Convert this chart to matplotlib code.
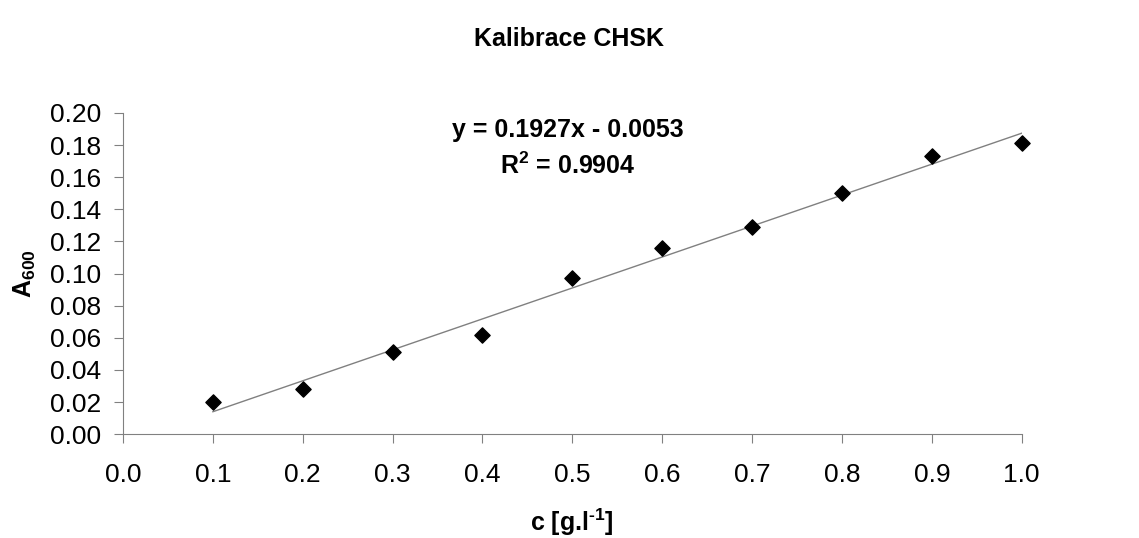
import numpy as np
import matplotlib.pyplot as plt

plt.rcParams['font.family'] = ['Liberation Sans', 'DejaVu Sans']
plt.rcParams['mathtext.fontset'] = 'custom'
plt.rcParams['mathtext.rm'] = 'Liberation Sans:bold'
plt.rcParams['mathtext.bf'] = 'Liberation Sans:bold'
plt.rcParams['mathtext.it'] = 'Liberation Sans:bold'

# calibration data
conc = [0.1, 0.2, 0.3, 0.4, 0.5, 0.6, 0.7, 0.8, 0.9, 1.0]
absorb = [0.020, 0.028, 0.051, 0.062, 0.097, 0.116, 0.129, 0.150, 0.173, 0.181]
slope = 0.1927
intercept = -0.0053

fig = plt.figure(figsize=(11.39, 5.38), dpi=100)
ax = fig.add_axes([0.108, 0.193, 0.789, 0.597])

xfit = np.array([conc[0], conc[-1]])
ax.plot(xfit, slope * xfit + intercept, color='#808080', lw=1)
ax.scatter(conc, absorb, marker='D', s=60, color='black', zorder=3, clip_on=False)

ax.set_xlim(0, 1.0)
ax.set_ylim(0, 0.20)
ax.set_xticks(np.arange(0, 1.01, 0.1))
ax.set_yticks(np.arange(0, 0.201, 0.02))
ax.set_xticklabels([f"{v:.1f}" for v in np.arange(0, 1.01, 0.1)])
ax.set_yticklabels([f"{v:.2f}" for v in np.arange(0, 0.201, 0.02)])
ax.tick_params(labelsize=19, color='#808080', length=6.5)
ax.tick_params(axis='x', pad=14)
ax.tick_params(axis='y', pad=9)
for s in ['top', 'right']:
    ax.spines[s].set_visible(False)
for s in ['left', 'bottom']:
    ax.spines[s].set_color('#808080')

# x label placed low, near the bottom edge
fig.text(0.502, 0.03, r"c [g.l$^{\text{-1}}$]", fontsize=18, fontweight='bold',
         ha='center', va='center')
ax.set_ylabel(r"A$_{\text{600}}$", fontsize=18, fontweight='bold', labelpad=9)
fig.suptitle("Kalibrace CHSK", fontsize=18, fontweight='bold', y=0.95)

ax.text(0.495, 0.1894, "y = 0.1927x - 0.0053", fontsize=18, fontweight='bold',
        ha='center', va='center')
ax.text(0.495, 0.167, r"R$^{\text{2}}$ = 0.9904", fontsize=18, fontweight='bold',
        ha='center', va='center')

fig.savefig("out.png", dpi=100)
